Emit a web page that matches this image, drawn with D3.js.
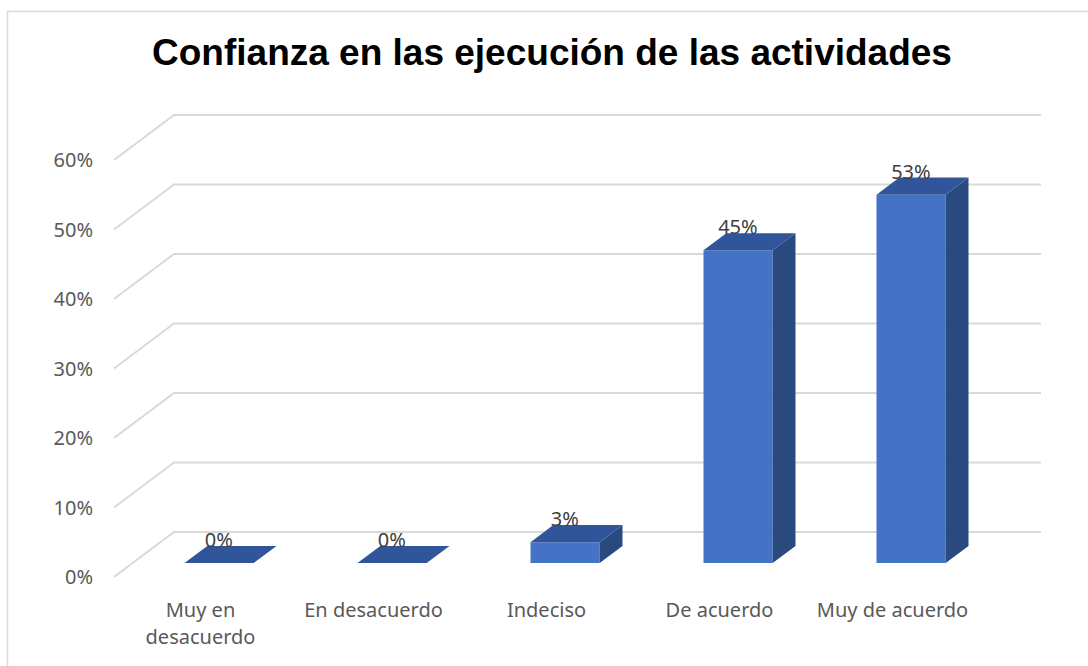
<!DOCTYPE html>
<html>
<head>
<meta charset="utf-8">
<script src="https://cdn.jsdelivr.net/npm/d3@7"></script>
<style>
  body { margin: 0; background: #fff; }
</style>
</head>
<body>
<div id="chart"></div>
<script>
const categories = ["Muy en desacuerdo", "En desacuerdo", "Indeciso", "De acuerdo", "Muy de acuerdo"];
const categoryLines = [["Muy en", "desacuerdo"], ["En desacuerdo"], ["Indeciso"], ["De acuerdo"], ["Muy de acuerdo"]];
const values = [0, 0, 0.03, 0.45, 0.53];
const valueLabels = ["0%", "0%", "3%", "45%", "53%"];
const yTicks = [0, 0.1, 0.2, 0.3, 0.4, 0.5, 0.6];
const title = "Confianza en las ejecución de las actividades";

const W = 1088, H = 666;
const ORIGIN = { X: 114, Y: 577 };     // front-left corner of the floor
const DEPTH = { X: 60, Y: 45 };        // floor depth vector
const BAR_D0 = 0.31, BAR_D1 = 0.69;    // bar sits inside the floor depth

const svg = d3.select("#chart").append("svg")
  .attr("width", W).attr("height", H)
  .attr("xmlns", "http://www.w3.org/2000/svg");

// outer frame
svg.append("rect")
  .attr("x", 7.5).attr("y", 11.5)
  .attr("width", W + 20).attr("height", H + 20)
  .attr("fill", "none").attr("stroke", "#D9D9D9").attr("stroke-width", 1.5);

svg.append("text")
  .attr("x", 552).attr("y", 65)
  .attr("text-anchor", "middle")
  .style("font-family", "'Liberation Sans', Arial, sans-serif")
  .style("font-weight", "bold").style("font-size", "37px")
  .attr("fill", "#000")
  .text(title);

const x = d3.scaleBand().domain(categories).range([0, 865])
  .paddingInner(0.6).paddingOuter(0.3);
const y = d3.scaleLinear().domain([0, 0.6]).range([0, 417]);

// project (x offset, depth fraction, value) -> screen
const P = (px, d, v) => [ORIGIN.X + px + DEPTH.X * d, ORIGIN.Y - DEPTH.Y * d - y(v)];

// gridlines: side wall diagonal + back wall
const grid = svg.append("g");
yTicks.forEach(t => {
  const a = P(0, 0, t), b = P(0, 1, t), c = P(x.range()[1] + 2, 1, t);
  grid.append("path")
    .attr("d", `M${a}L${b}L${c}`)
    .attr("fill", "none").attr("stroke", "#D9D9D9").attr("stroke-width", 2);
  grid.append("text")
    .attr("x", 93).attr("y", a[1] + 7)
    .attr("text-anchor", "end")
    .style("font-family", "'Noto Sans', sans-serif").style("font-size", "20px")
    .attr("fill", "#595959")
    .text(d3.format(".0%")(t));
});

// 3d bars
const bars = svg.append("g");
categories.forEach((c, i) => {
  const v = values[i];
  const x0 = x(c), x1 = x(c) + x.bandwidth();
  const f = [P(x0, BAR_D0, 0), P(x1, BAR_D0, 0), P(x1, BAR_D0, v), P(x0, BAR_D0, v)];
  const s = [P(x1, BAR_D0, 0), P(x1, BAR_D1, 0), P(x1, BAR_D1, v), P(x1, BAR_D0, v)];
  const tp = [P(x0, BAR_D0, v), P(x1, BAR_D0, v), P(x1, BAR_D1, v), P(x0, BAR_D1, v)];
  const g = bars.append("g");
  g.append("path").attr("d", `M${f.join("L")}Z`).attr("fill", "#4472C4");
  g.append("path").attr("d", `M${s.join("L")}Z`).attr("fill", "#2A4A7F");
  g.append("path").attr("d", `M${tp.join("L")}Z`).attr("fill", "#30559A");

  const lp = P(x0 + x.bandwidth() / 2, BAR_D1, v);
  svg.append("text")
    .attr("x", lp[0] - 23).attr("y", lp[1] + 1)
    .attr("text-anchor", "middle")
    .style("font-family", "'Noto Sans', sans-serif").style("font-size", "20px")
    .attr("fill", "#404040")
    .text(valueLabels[i]);
});

// category labels
categories.forEach((c, i) => {
  const t = svg.append("text")
    .attr("x", ORIGIN.X + x(c) + x.bandwidth() / 2).attr("y", 617)
    .attr("text-anchor", "middle")
    .style("font-family", "'Noto Sans', sans-serif").style("font-size", "20px")
    .attr("fill", "#595959");
  categoryLines[i].forEach((ln, k) => {
    t.append("tspan").attr("x", ORIGIN.X + x(c) + x.bandwidth() / 2)
      .attr("dy", k === 0 ? 0 : 27).text(ln);
  });
});
</script>
</body>
</html>
